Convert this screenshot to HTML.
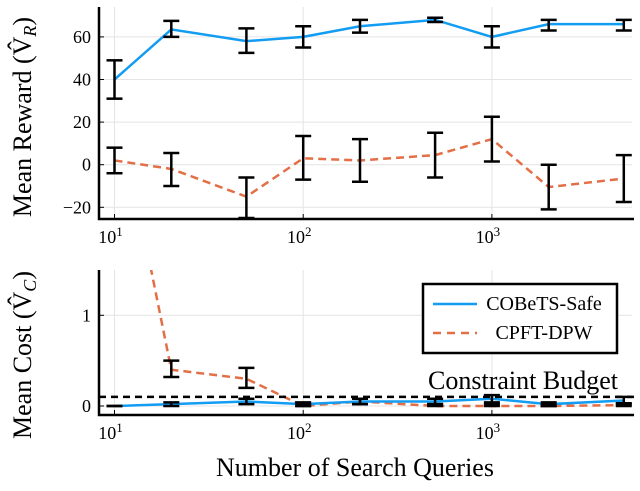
<!DOCTYPE html>
<html><head><meta charset="utf-8"><style>
body{margin:0;background:#fff}
svg text{font-family:"Liberation Serif",serif;fill:#000}
</style></head><body>
<svg id="c" width="640" height="486" viewBox="0 0 640 486" xmlns="http://www.w3.org/2000/svg">
<defs>
<clipPath id="clipTop"><rect x="99" y="5" width="535" height="214"/></clipPath>
<clipPath id="clipBot"><rect x="99" y="270" width="535" height="145"/></clipPath>
</defs>
<g id="topPanel"></g><g id="botPanel"></g>
<text x="31" y="117" font-size="26" text-anchor="middle" transform="rotate(-90 31 117)">Mean Reward (V̂<tspan font-style="italic" font-size="18" dy="5">R</tspan><tspan dy="-5">)</tspan></text>
<text x="31" y="355" font-size="26" text-anchor="middle" transform="rotate(-90 31 355)">Mean Cost (V̂<tspan font-style="italic" font-size="18" dy="5">C</tspan><tspan dy="-5">)</tspan></text>
<text x="355" y="476" font-size="26" text-anchor="middle">Number of Search Queries</text>
</svg>
<script>
const queries=[10,20,50,100,200,500,1000,2000,5000];
const rewardSafe=[40,63.5,58,60,65,68,60,66,66];
const rewardSafeLo=[31,60,52.5,55,62,67,55,63,63];
const rewardSafeHi=[49,67.5,64,65,68,69,65,68,68];
const rewardDpw=[2,-2,-15,3,2,4.5,12,-10.5,-6.5];
const rewardDpwLo=[-4,-10,-25,-7,-8,-6,1.5,-21,-17.5];
const rewardDpwHi=[8,5.5,-6,13.5,12,15,22.5,0,4.5];
const costSafe=[0,0.02,0.05,0.02,0.05,0.05,0.08,0.02,0.06];
const costSafeLo=[0,0,0.02,0,0.02,0.02,0.04,0,0.02];
const costSafeHi=[0,0.04,0.08,0.04,0.08,0.08,0.12,0.04,0.1];
const costDpw=[3.5,0.4,0.3,0,0.05,0,0,0,0.01];
const costDpwLo=[3.5,0.32,0.2,0,0.02,0,0,0,0];
const costDpwHi=[3.5,0.5,0.42,0.02,0.08,0.02,0.02,0.02,0.03];
const budget=[0.1];
const rewardTicks=[-20,0,20,40,60];
const costTicks=[0,1];
const xTicks=[10,100,1000];
const xTickLabels=["1","2","3"];

const NS="http://www.w3.org/2000/svg";
function mk(p,t,a){const e=document.createElementNS(NS,t);for(const k in a)e.setAttribute(k,a[k]);p.appendChild(e);return e;}
const X=v=>114.5+(Math.log10(v)-1)*188.7;
const YT=v=>164.7-v*2.13;
const YB=v=>406-v*90.7;

function panel(g,Y,yTicks,y0,y1,clip,series,isTop){
  yTicks.forEach(t=>{
    const l=mk(g,'line',{x1:99,x2:632,y1:Y(t),y2:Y(t),stroke:'#e4e4e4','stroke-width':1});
    
    
    mk(g,'line',{x1:99,x2:104,y1:Y(t),y2:Y(t),stroke:'#000','stroke-width':1});
    const tx=mk(g,'text',{x:91,y:Y(t)+6,'font-size':18,'text-anchor':'end'});
    tx.textContent=(t<0?'\u2212'+(-t):String(t));
    
    
  });
  xTicks.forEach((t,i)=>{
    const l=mk(g,'line',{x1:X(t),x2:X(t),y1:y0,y2:y1,stroke:'#e4e4e4','stroke-width':1});
    
    
    mk(g,'line',{x1:X(t),x2:X(t),y1:y1-5,y2:y1,stroke:'#000','stroke-width':1});
    const tx=mk(g,'text',{x:X(t)-4,y:y1+24,'font-size':18,'text-anchor':'middle'});
    tx.textContent='10';
    const s=mk(tx,'tspan',{dy:-7,'font-size':13});s.textContent=xTickLabels[i];
    
    
  });
  const cg=mk(g,'g',{'clip-path':'url(#'+clip+')'});
  series.forEach(s=>{
    const pts=queries.map((q,i)=>X(q)+','+Y(s.v[i])).join(' ');
    const pl=mk(cg,'polyline',{points:pts,fill:'none',stroke:s.c,'stroke-width':2.5,'stroke-dasharray':s.d||''});
    
    
  });
  series.forEach(s=>{
    queries.forEach((q,i)=>{
      if(s.lo[i]===s.hi[i]&&!isTop&&s.lo[i]>2)return;
      const x=X(q),eg=mk(cg,'g',{stroke:'#000','stroke-width':2.5});
      
      
      mk(eg,'line',{x1:x,x2:x,y1:Y(s.lo[i]),y2:Y(s.hi[i])});
      mk(eg,'line',{x1:x-8,x2:x+8,y1:Y(s.lo[i]),y2:Y(s.lo[i])});
      mk(eg,'line',{x1:x-8,x2:x+8,y1:Y(s.hi[i]),y2:Y(s.hi[i])});
    });
  });
  const ax=mk(g,'path',{d:`M99 ${y0} V${y1} H634`,fill:'none',stroke:'#000','stroke-width':2.5});
  
  
}
const gTop=document.getElementById('topPanel'),gBot=document.getElementById('botPanel');
panel(gTop,YT,rewardTicks,7,219,'clipTop',[
 {v:rewardSafe,lo:rewardSafeLo,hi:rewardSafeHi,c:'#129cf2',n:'reward-cobets-line'},
 {v:rewardDpw,lo:rewardDpwLo,hi:rewardDpwHi,c:'#e26f46',d:'8 5',n:'reward-cpft-line'}],true);
panel(gBot,YB,costTicks,270,415,'clipBot',[
 {v:costDpw,lo:costDpwLo,hi:costDpwHi,c:'#e26f46',d:'8 5',n:'cost-cpft-line'},
 {v:costSafe,lo:costSafeLo,hi:costSafeHi,c:'#129cf2',n:'cost-cobets-line'}],false);
const bl=mk(gBot,'line',{x1:99,x2:634,y1:YB(budget[0]),y2:YB(budget[0]),stroke:'#000','stroke-width':2.5,'stroke-dasharray':'7 5'});


const bt=mk(gBot,'text',{x:523,y:389,'font-size':26,'text-anchor':'middle'});bt.textContent='Constraint Budget';


const lg=mk(gBot,'g',{});


mk(lg,'rect',{x:423,y:284,width:194,height:69,fill:'#fff',stroke:'#000','stroke-width':2.5});
mk(lg,'line',{x1:433,x2:477,y1:304,y2:304,stroke:'#129cf2','stroke-width':2.5});
mk(lg,'line',{x1:433,x2:477,y1:333,y2:333,stroke:'#e26f46','stroke-width':2.5,'stroke-dasharray':'8 6'});
const l1=mk(lg,'text',{x:544,y:310,'font-size':20,'text-anchor':'middle'});l1.textContent='COBeTS-Safe';


const l2=mk(lg,'text',{x:544,y:339,'font-size':20,'text-anchor':'middle'});l2.textContent='CPFT-DPW';


</script>
</body></html>
